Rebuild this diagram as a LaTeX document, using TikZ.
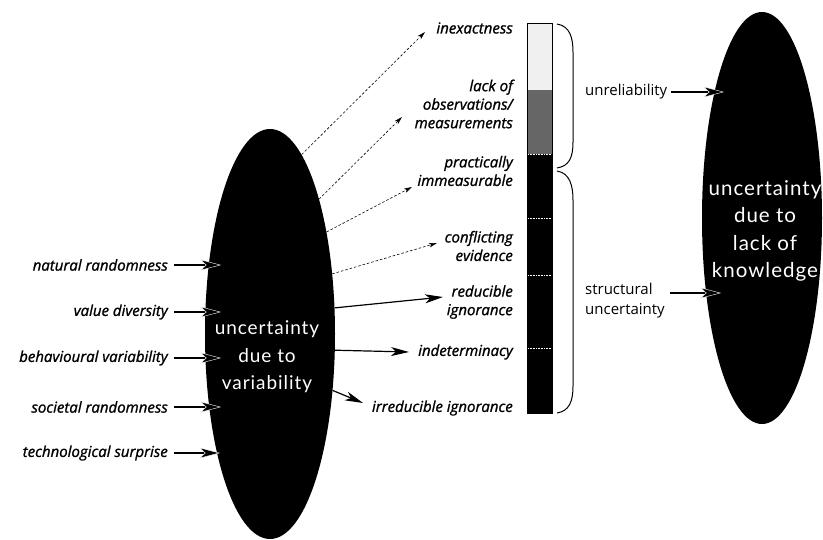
\documentclass[tikz,border=0pt]{standalone}
\usepackage{fontspec}
\setmainfont{Open Sans}
\newfontfamily\lblfont[FakeBold=1.2]{Open Sans}
\newfontfamily\ellfont[LetterSpace=5]{Lato}
\usetikzlibrary{arrows.meta,shapes.geometric}
\begin{document}
\begin{tikzpicture}[x=1pt,y=-1pt,
  lbl/.style={font=\lblfont\fontsize{15}{18.5}\selectfont\itshape, inner sep=0pt, align=right},
  rlbl/.style={font=\fontsize{15}{20}\selectfont, inner sep=0pt, align=left, anchor=west},
  etxt/.style={text=white, align=center, font=\ellfont\fontsize{19}{27.5}\selectfont},
  ktxt/.style={text=white, align=center, font=\ellfont\fontsize{20.5}{27.5}\selectfont},
  blob/.style={ellipse, fill=black, inner sep=0pt},
  arr/.style={-{Stealth[length=18pt,width=9pt,inset=5pt]}, line width=1.2pt},
  arrin/.style={-{Stealth[length=21pt,width=11pt,inset=6pt,fill=black,color=white,line width=0.4pt]}, line width=1.2pt},
  darr/.style={dash pattern=on 2.5pt off 2pt, line width=0.6pt, -{Stealth[length=8pt,width=4.5pt,inset=2pt]}},
  tick/.style={white, line width=0.5pt, dash pattern=on 1pt off 0.6pt}
]
\useasboundingbox (0,0) rectangle (823,539);

% ellipses
\node[blob, minimum width=130pt, minimum height=410pt] (var) at (270,334) {};
\node[etxt] (vartxt) at (267,357) {uncertainty\\due to\\variability};
\node[blob, minimum width=120pt, minimum height=412pt] (know) at (762,218) {};
\node[ktxt] (knowtxt) at (765,231) {uncertainty\\due to\\lack of\\knowledge};

% bar
\fill[black!6] (527,23) rectangle (552,90);
\fill[black!60] (527,90) rectangle (552,154);
\fill[black] (527,154) rectangle (552,413);
\draw[line width=0.8pt] (527,23) rectangle (552,413);
\draw[tick] (528,154) -- (551,154);
\draw[tick] (528,218) -- (551,218);
\draw[tick] (528,275) -- (551,275);
\draw[tick] (528,348) -- (551,348);

% braces
\draw[line width=1pt] (557,24) .. controls (570,26) and (573,38) .. (573,52) -- (573,142) .. controls (573,158) and (569,166) .. (557,168);
\draw[line width=1pt] (557,171) .. controls (570,173) and (573,186) .. (573,200) -- (573,386) .. controls (573,402) and (569,411) .. (557,413);

% left labels
\node[lbl, anchor=east] (nr) at (168,265) {natural randomness};
\node[lbl, anchor=east] (vd) at (168,312) {value diversity};
\node[lbl, anchor=east] (bv) at (168,358) {behavioural variability};
\node[lbl, anchor=east] (sr) at (168,407) {societal randomness};
\node[lbl, anchor=east] (ts) at (168,453) {technological surprise};
\coordinate (nrt) at (221,265);
\coordinate (vdt) at (221,312);
\coordinate (bvt) at (221,358);
\coordinate (srt) at (221,407);
\coordinate (tst) at (220,453);
\draw[arrin] ([xshift=6pt]nr.east) -- (nrt);
\draw[arrin] ([xshift=6pt]vd.east) -- (vdt);
\draw[arrin] ([xshift=6pt]bv.east) -- (bvt);
\draw[arrin] ([xshift=6pt]sr.east) -- (srt);
\draw[arrin] ([xshift=6pt]ts.east) -- (tst);

% middle labels
\node[lbl, anchor=east] (inex) at (513,28) {inexactness};
\node[lbl, anchor=east] (lack) at (513,104) {lack of\\observations/\\measurements};
\node[lbl, anchor=east] (pract) at (513,171) {practically\\immeasurable};
\node[lbl, anchor=east] (confl) at (513,246) {conflicting\\evidence};
\node[lbl, anchor=east] (reduc) at (513,302) {reducible\\ignorance};
\node[lbl, anchor=east] (indet) at (513,352) {indeterminacy};
\node[lbl, anchor=east] (irred) at (513,408) {irreducible ignorance};

\coordinate (inext) at (425,32);
\coordinate (lackt) at (402,117);
\coordinate (practt) at (412,187);
\coordinate (conflt) at (437,243);
\coordinate (reduct) at (443,297);
\coordinate (indett) at (409,352);
\coordinate (irredt) at (363,403);

\draw[darr] (var.80.6) -- (inext);
\draw[darr] (var.70.6) -- (lackt);
\draw[darr] (var.61.7) -- (practt);
\draw[darr] (var.44.5) -- (conflt);
\draw[arr] (var.22.4) -- (reduct);
\draw[arr] (var.-14.3) -- (indett);
\draw[arr] (var.-42) -- (irredt);

% right labels
\node[rlbl] (unrel) at (585,92) {unreliability};
\node[rlbl] (struct) at (585,301) {structural\\uncertainty};
\coordinate (unrelt) at (724,92);
\coordinate (structt) at (721,293);
\draw[arrin] ([xshift=4pt]unrel.east) -- (unrelt);
\draw[arrin] (670,293) -- (structt);
\end{tikzpicture}
\end{document}
